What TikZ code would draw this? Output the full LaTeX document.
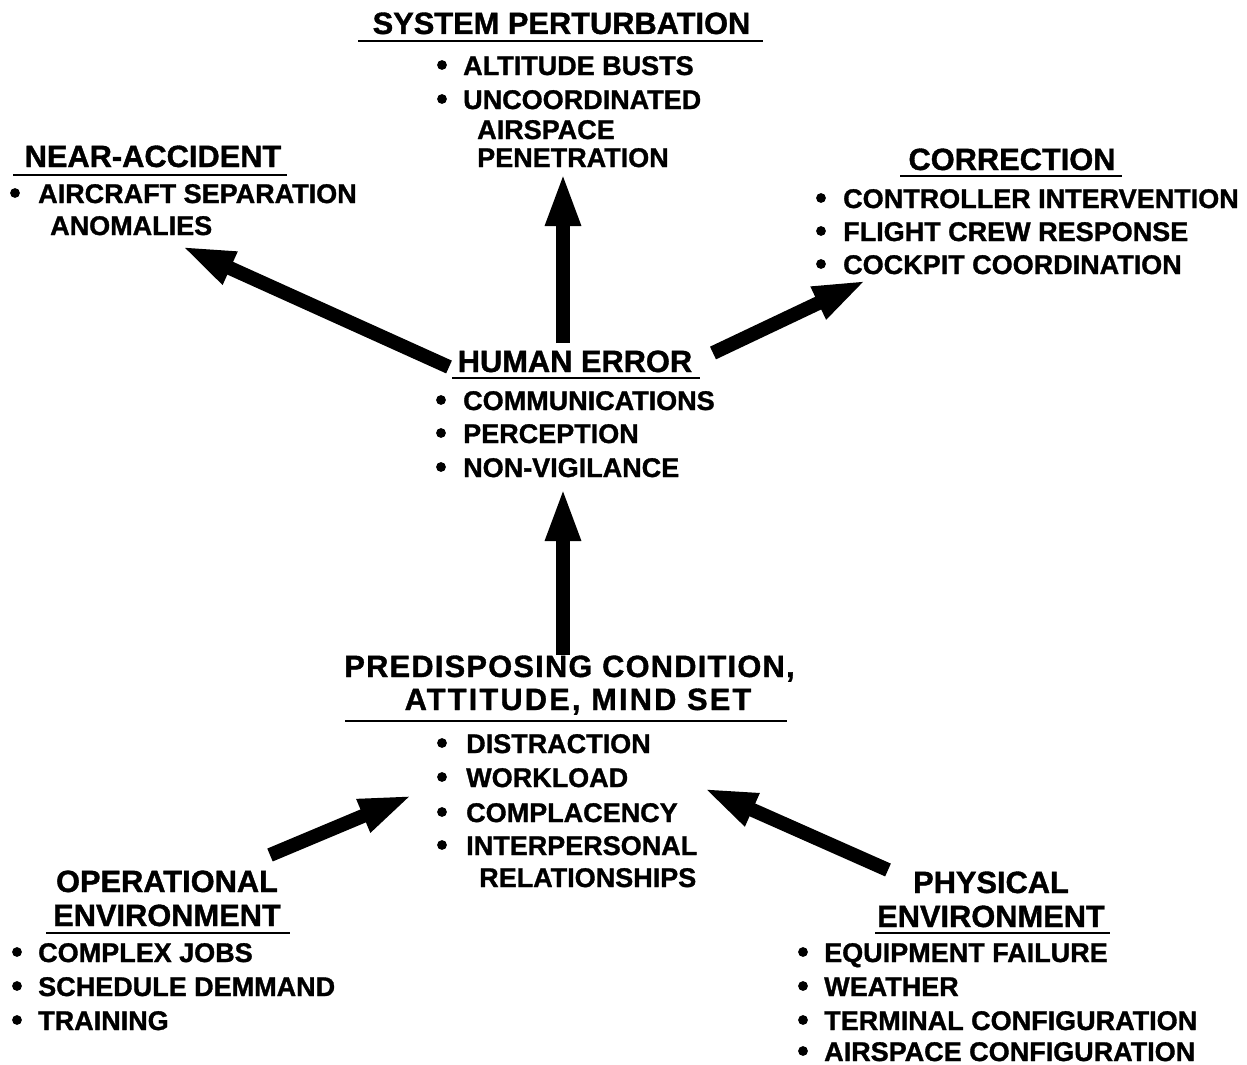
\documentclass[tikz,border=0pt]{standalone}
\usepackage{fontspec}
\setmainfont{Liberation Sans}[BoldFeatures={FakeBold=1.2}]
\usetikzlibrary{arrows.meta}
\tikzset{
  ttl/.style={inner sep=0pt, anchor=base, font=\bfseries\fontsize{30.8}{36}\selectfont},
  itm/.style={inner sep=0pt, anchor=base west, font=\bfseries\fontsize{27}{32}\selectfont},
  rulel/.style={line width=2.5pt},
  bigarrow/.style={line width=14pt, -{Triangle[length=54pt,width=32pt]}},
  dotb/.style={fill=black},
}
\begin{document}
\begin{tikzpicture}[x=1pt,y=-1pt]
\path[use as bounding box, fill=white] (0,0) rectangle (1247,1065);

% SYSTEM PERTURBATION
\node[ttl] (sp) at (561.5,34) {SYSTEM PERTURBATION};
\draw[rulel] (358,41) -- (763,41);
\node[itm] (sp1) at (463,75) {ALTITUDE BUSTS};
\node[itm] (sp2) at (463,109) {UNCOORDINATED};
\node[itm] (sp3) at (477,139) {AIRSPACE};
\node[itm] (sp4) at (477,167) {PENETRATION};
\fill[dotb] (442,65) circle (4.9pt);
\fill[dotb] (442,99) circle (4.9pt);

% NEAR-ACCIDENT
\node[ttl] (na) at (153,167) {NEAR-ACCIDENT};
\draw[rulel] (13,175) -- (287,175);
\node[itm] (na1) at (38,203) {AIRCRAFT SEPARATION};
\node[itm] (na2) at (50,235) {ANOMALIES};
\fill[dotb] (15,193) circle (4.9pt);

% CORRECTION
\node[ttl] (co) at (1012,170) {CORRECTION};
\draw[rulel] (900,176) -- (1122,176);
\node[itm] (co1) at (843,208) {CONTROLLER INTERVENTION};
\node[itm] (co2) at (843,241) {FLIGHT CREW RESPONSE};
\node[itm] (co3) at (843,274) {COCKPIT COORDINATION};
\fill[dotb] (821,198) circle (4.9pt);
\fill[dotb] (821,231) circle (4.9pt);
\fill[dotb] (821,264) circle (4.9pt);

% HUMAN ERROR
\node[ttl] (he) at (575,372) {HUMAN ERROR};
\draw[rulel] (452,378) -- (700,378);
\node[itm] (he1) at (463,410) {COMMUNICATIONS};
\node[itm] (he2) at (463,443) {PERCEPTION};
\node[itm] (he3) at (463,477) {NON-VIGILANCE};
\fill[dotb] (441,400) circle (4.9pt);
\fill[dotb] (441,433) circle (4.9pt);
\fill[dotb] (441,467) circle (4.9pt);

% PREDISPOSING CONDITION
\node[ttl] (pc) at (569.5,677) {\addfontfeatures{LetterSpace=4}PREDISPOSING CONDITION,};
\node[ttl] (pc2) at (578,710) {\addfontfeatures{LetterSpace=7}ATTITUDE, MIND SET};
\draw[rulel] (345,721) -- (787,721);
\node[itm] (pc3) at (466,753) {DISTRACTION};
\node[itm] (pc4) at (466,787) {WORKLOAD};
\node[itm] (pc5) at (466,822) {COMPLACENCY};
\node[itm] (pc6) at (466,855) {INTERPERSONAL};
\node[itm] (pc7) at (479,887) {RELATIONSHIPS};
\fill[dotb] (442,743) circle (4.9pt);
\fill[dotb] (442,777) circle (4.9pt);
\fill[dotb] (442,812) circle (4.9pt);
\fill[dotb] (442,845) circle (4.9pt);

% OPERATIONAL ENVIRONMENT
\node[ttl] (oe) at (167,892) {OPERATIONAL};
\node[ttl] (oe2) at (167,926) {ENVIRONMENT};
\draw[rulel] (46,933) -- (290,933);
\node[itm] (oe3) at (38,962) {COMPLEX JOBS};
\node[itm] (oe4) at (38,996) {SCHEDULE DEMMAND};
\node[itm] (oe5) at (38,1030) {TRAINING};
\fill[dotb] (17,952) circle (4.9pt);
\fill[dotb] (17,986) circle (4.9pt);
\fill[dotb] (17,1020) circle (4.9pt);

% PHYSICAL ENVIRONMENT
\node[ttl] (pe) at (991,893) {PHYSICAL};
\node[ttl] (pe2) at (991,927) {ENVIRONMENT};
\draw[rulel] (875,933) -- (1110,933);
\node[itm] (pe3) at (824,962) {EQUIPMENT FAILURE};
\node[itm] (pe4) at (824,996) {WEATHER};
\node[itm] (pe5) at (824,1030) {TERMINAL CONFIGURATION};
\node[itm] (pe6) at (824,1061) {AIRSPACE CONFIGURATION};
\fill[dotb] (803,952) circle (4.9pt);
\fill[dotb] (803,986) circle (4.9pt);
\fill[dotb] (803,1020) circle (4.9pt);
\fill[dotb] (803,1051) circle (4.9pt);

% arrow ends
\coordinate (pcTop) at (563,655);
\coordinate (heBot) at (563,487);
\coordinate (heTop) at (563,343);
\coordinate (spBot) at (563,172);
\coordinate (heLeft) at (449,367);
\coordinate (naTip) at (181,246);
\coordinate (heRight) at (713,353);
\coordinate (coTip) at (867,280);
\coordinate (oeTail) at (270,855);
\coordinate (pcLeft) at (413,795);
\coordinate (peTail) at (888,870);
\coordinate (pcRight) at (703,788);

\draw[bigarrow] (pcTop) -- (heBot);
\draw[bigarrow] (heTop) -- (spBot);
\draw[bigarrow] (heLeft) -- (naTip);
\draw[bigarrow] (heRight) -- (coTip);
\draw[bigarrow] (oeTail) -- (pcLeft);
\draw[bigarrow] (peTail) -- (pcRight);
\end{tikzpicture}
\end{document}
